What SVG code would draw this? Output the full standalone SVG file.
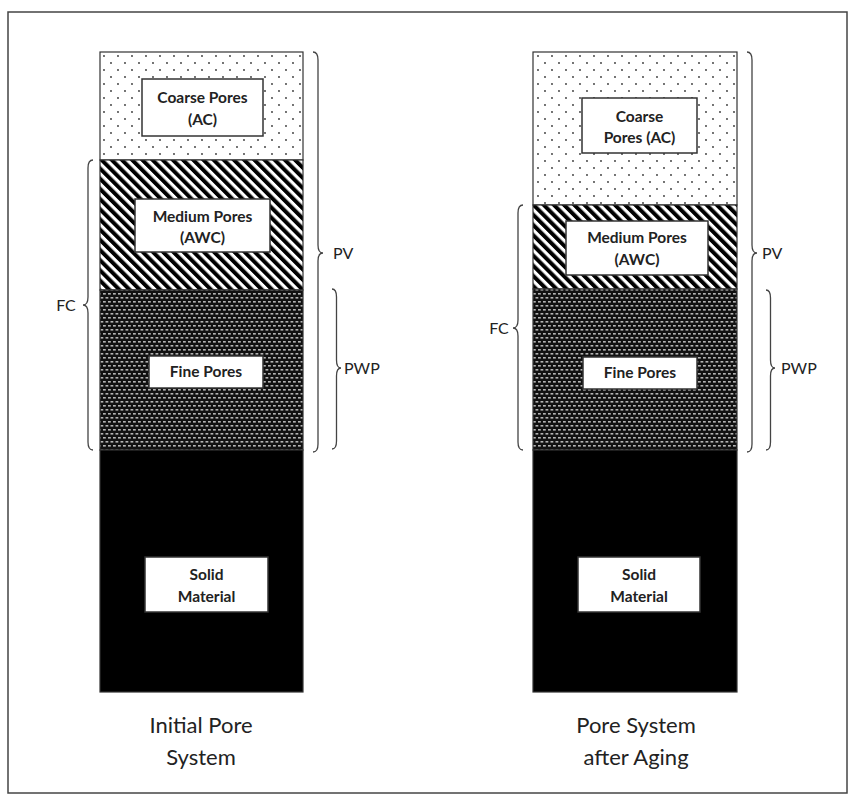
<svg xmlns="http://www.w3.org/2000/svg" width="856" height="801" viewBox="0 0 856 801">
<defs>
<pattern id="dots" width="14" height="14" patternUnits="userSpaceOnUse" x="100" y="52">
<rect width="14" height="14" fill="#fff"/>
<circle cx="4" cy="4" r="0.9" fill="#333"/>
<circle cx="11" cy="11" r="0.9" fill="#333"/>
</pattern>
<pattern id="hatch" width="7.2" height="7.2" patternUnits="userSpaceOnUse" patternTransform="rotate(-45)">
<rect width="7.2" height="7.2" fill="#fff"/>
<rect width="4" height="7.2" fill="#000"/>
</pattern>
<pattern id="fine" width="5" height="8" patternUnits="userSpaceOnUse">
<rect width="5" height="8" fill="#111"/>
<rect x="0.5" y="1" width="2.8" height="1.6" fill="#b4b4b4"/>
<rect x="3" y="5" width="2.8" height="1.6" fill="#b4b4b4"/>
<rect x="-2" y="5" width="2.8" height="1.6" fill="#b4b4b4"/>
</pattern>
</defs>
<style>
.col{stroke:#333;stroke-width:1.2}
.box{fill:#fff;stroke:#333;stroke-width:1.5}
.bl{font-family:Lato,"Liberation Sans",sans-serif;font-weight:bold;font-size:15.5px;fill:#222;text-anchor:middle}
.lb{font-family:Lato,"Liberation Sans",sans-serif;font-size:16px;fill:#222}
.cap{font-family:Lato,"Liberation Sans",sans-serif;font-size:22px;fill:#222;text-anchor:middle}
.br{fill:none;stroke:#444;stroke-width:1.3}
</style>
<rect x="8" y="12" width="839" height="781" fill="#fff" stroke="#444" stroke-width="1.5"/>

<g id="left-column">
<g id="left-coarse">
<rect class="col" x="100" y="52" width="203" height="108" fill="url(#dots)"/>
<rect class="box" x="142" y="79" width="121" height="57"/>
<text class="bl" x="202.5" y="103">Coarse Pores</text>
<text class="bl" x="202.5" y="125">(AC)</text>
</g>
<g id="left-medium">
<rect class="col" x="100" y="160" width="203" height="130" fill="url(#hatch)"/>
<rect class="box" x="135" y="199" width="135" height="53"/>
<text class="bl" x="202.5" y="222">Medium Pores</text>
<text class="bl" x="202.5" y="243">(AWC)</text>
</g>
<g id="left-fine">
<rect class="col" x="100" y="290" width="203" height="160" fill="url(#fine)"/>
<rect class="box" x="149" y="356" width="114" height="32"/>
<text class="bl" x="206" y="377">Fine Pores</text>
</g>
<g id="left-solid">
<rect class="col" x="100" y="450" width="203" height="242" fill="#000"/>
<rect class="box" x="145" y="557" width="123" height="55"/>
<text class="bl" x="206.5" y="580">Solid</text>
<text class="bl" x="206.5" y="602">Material</text>
</g>
<text class="cap" x="201" y="733">Initial Pore</text>
<text class="cap" x="201" y="765">System</text>
</g>

<g id="right-column">
<g id="right-coarse">
<rect class="col" x="533" y="52" width="204" height="153" fill="url(#dots)"/>
<rect class="box" x="582" y="98" width="115" height="55"/>
<text class="bl" x="639.5" y="122">Coarse</text>
<text class="bl" x="639.5" y="143">Pores (AC)</text>
</g>
<g id="right-medium">
<rect class="col" x="533" y="205" width="204" height="84" fill="url(#hatch)"/>
<rect class="box" x="566" y="221" width="142" height="54"/>
<text class="bl" x="637" y="243">Medium Pores</text>
<text class="bl" x="637" y="265">(AWC)</text>
</g>
<g id="right-fine">
<rect class="col" x="533" y="289" width="204" height="161" fill="url(#fine)"/>
<rect class="box" x="583" y="357" width="114" height="32"/>
<text class="bl" x="640" y="378">Fine Pores</text>
</g>
<g id="right-solid">
<rect class="col" x="533" y="450" width="204" height="242" fill="#000"/>
<rect class="box" x="578" y="557" width="122" height="55"/>
<text class="bl" x="639" y="580">Solid</text>
<text class="bl" x="639" y="602">Material</text>
</g>
<text class="cap" x="636" y="733">Pore System</text>
<text class="cap" x="636" y="765">after Aging</text>
</g>

<g id="connectors">
<path class="br" d="M313 52 Q318 52 318 60 L318 245 Q318 253 323 253 Q318 253 318 261 L318 444 Q318 452 313 452"/>
<path class="br" d="M332 289 Q336.5 289 336.5 297 L336.5 360 Q336.5 368 341 368 Q336.5 368 336.5 376 L336.5 441 Q336.5 449 332 449"/>
<path class="br" d="M93 160 Q88 160 88 168 L88 297 Q88 305 83 305 Q88 305 88 313 L88 442 Q88 450 93 450"/>
<path class="br" d="M747 52 Q752 52 752 60 L752 245 Q752 253 757 253 Q752 253 752 261 L752 444 Q752 452 747 452"/>
<path class="br" d="M766 290 Q770.5 290 770.5 298 L770.5 360 Q770.5 368 775 368 Q770.5 368 770.5 376 L770.5 442 Q770.5 450 766 450"/>
<path class="br" d="M523 205 Q518 205 518 213 L518 320 Q518 328 513 328 Q518 328 518 336 L518 442 Q518 450 523 450"/>
</g>
<g id="labels">
<text class="lb" x="333" y="259">PV</text>
<text class="lb" x="344" y="374">PWP</text>
<text class="lb" x="66" y="311" text-anchor="middle">FC</text>
<text class="lb" x="762" y="259">PV</text>
<text class="lb" x="781" y="374">PWP</text>
<text class="lb" x="499" y="334" text-anchor="middle">FC</text>
</g>
</svg>
